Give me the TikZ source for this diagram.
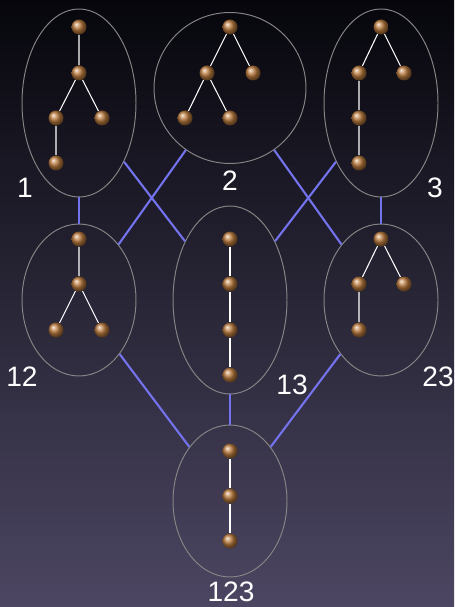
\documentclass[tikz,border=0pt]{standalone}
\usepackage{fontspec}
\setmainfont{Liberation Sans}
\usepackage{tikz}
\usetikzlibrary{shapes.geometric}

\definecolor{linkblue}{RGB}{115,115,238}
\definecolor{bronze}{RGB}{188,124,62}
\definecolor{bgtop}{RGB}{6,6,12}
\definecolor{bgmid}{RGB}{28,26,48}
\definecolor{bgbot}{RGB}{76,70,98}

\begin{document}
\begin{tikzpicture}[
  x=0.02cm, y=-0.02cm,
  fam/.style={ellipse, draw=white!52!black, line width=0.55pt, inner sep=0pt, minimum width=2.28cm, minimum height=3.76cm},
  short/.style={fam, minimum height=3.04cm},
  bead/.style={circle, inner sep=0pt, minimum size=0.3cm, shading=ball, ball color=bronze},
  branch/.style={draw=white, line width=0.6pt},
  link/.style={draw=linkblue, line width=1.2pt},
  lbl/.style={text=white, font=\fontsize{16}{18}\selectfont}
]
  \shade[top color=bgtop, middle color=bgmid, bottom color=bgbot] (0,0) rectangle (454,607);
  \useasboundingbox (0,0) rectangle (454,607);

  % the seven families
  \node[fam] (s1) at (79,103) {};
  \node[fam, minimum width=3.04cm, minimum height=3.02cm] (s2) at (230,88) {};
  \node[fam] (s3) at (381,103) {};
  \node[short] (s12) at (79,300) {};
  \node[fam] (s13) at (230,300) {};
  \node[short] (s23) at (381,300) {};
  \node[short] (s123) at (230,501) {};

  \node[lbl] (l1) at (25,188) {1};
  \node[lbl] (l2) at (230,181) {2};
  \node[lbl] (l3) at (435,188) {3};
  \node[lbl] (l12) at (22,377) {12};
  \node[lbl] (l13) at (292,385) {13};
  \node[lbl] (l23) at (438,377) {23};
  \node[lbl] (l123) at (231,592) {123};

  \draw[link] (s1) -- (s12);
  \draw[link] (s1) -- (s13);
  \draw[link] (s2) -- (s12);
  \draw[link] (s2) -- (s23);
  \draw[link] (s3) -- (s13);
  \draw[link] (s3) -- (s23);
  \draw[link] (s12) -- (s123);
  \draw[link] (s13) -- (s123);
  \draw[link] (s23) -- (s123);

  % trees
  \node[bead] (a1) at (79,27) {};  \node[bead] (a2) at (79,73) {};
  \node[bead] (a3) at (56,118) {}; \node[bead] (a4) at (102,118) {};
  \node[bead] (a5) at (56,163) {};
  \draw[branch] (a1) -- (a2) (a2) -- (a3) (a2) -- (a4) (a3) -- (a5);

  \node[bead] (b1) at (230,27) {};  \node[bead] (b2) at (207,73) {};
  \node[bead] (b3) at (253,73) {};  \node[bead] (b4) at (185,118) {};
  \node[bead] (b5) at (230,118) {};
  \draw[branch] (b1) -- (b2) (b1) -- (b3) (b2) -- (b4) (b2) -- (b5);

  \node[bead] (c1) at (381,27) {};  \node[bead] (c2) at (359,73) {};
  \node[bead] (c3) at (404,73) {};  \node[bead] (c4) at (359,118) {};
  \node[bead] (c5) at (359,163) {};
  \draw[branch] (c1) -- (c2) (c1) -- (c3) (c2) -- (c4) (c4) -- (c5);

  \node[bead] (d1) at (79,239) {};  \node[bead] (d2) at (79,284) {};
  \node[bead] (d3) at (56,330) {};  \node[bead] (d4) at (102,330) {};
  \draw[branch] (d1) -- (d2) (d2) -- (d3) (d2) -- (d4);

  \node[bead] (e1) at (230,239) {}; \node[bead] (e2) at (230,284) {};
  \node[bead] (e3) at (230,330) {}; \node[bead] (e4) at (230,375) {};
  \draw[branch] (e1) -- (e2) (e2) -- (e3) (e3) -- (e4);

  \node[bead] (f1) at (381,239) {}; \node[bead] (f2) at (359,284) {};
  \node[bead] (f3) at (404,284) {}; \node[bead] (f4) at (359,330) {};
  \draw[branch] (f1) -- (f2) (f1) -- (f3) (f2) -- (f4);

  \node[bead] (g1) at (230,451) {}; \node[bead] (g2) at (230,496) {};
  \node[bead] (g3) at (230,541) {};
  \draw[branch] (g1) -- (g2) (g2) -- (g3);
\end{tikzpicture}
\end{document}
